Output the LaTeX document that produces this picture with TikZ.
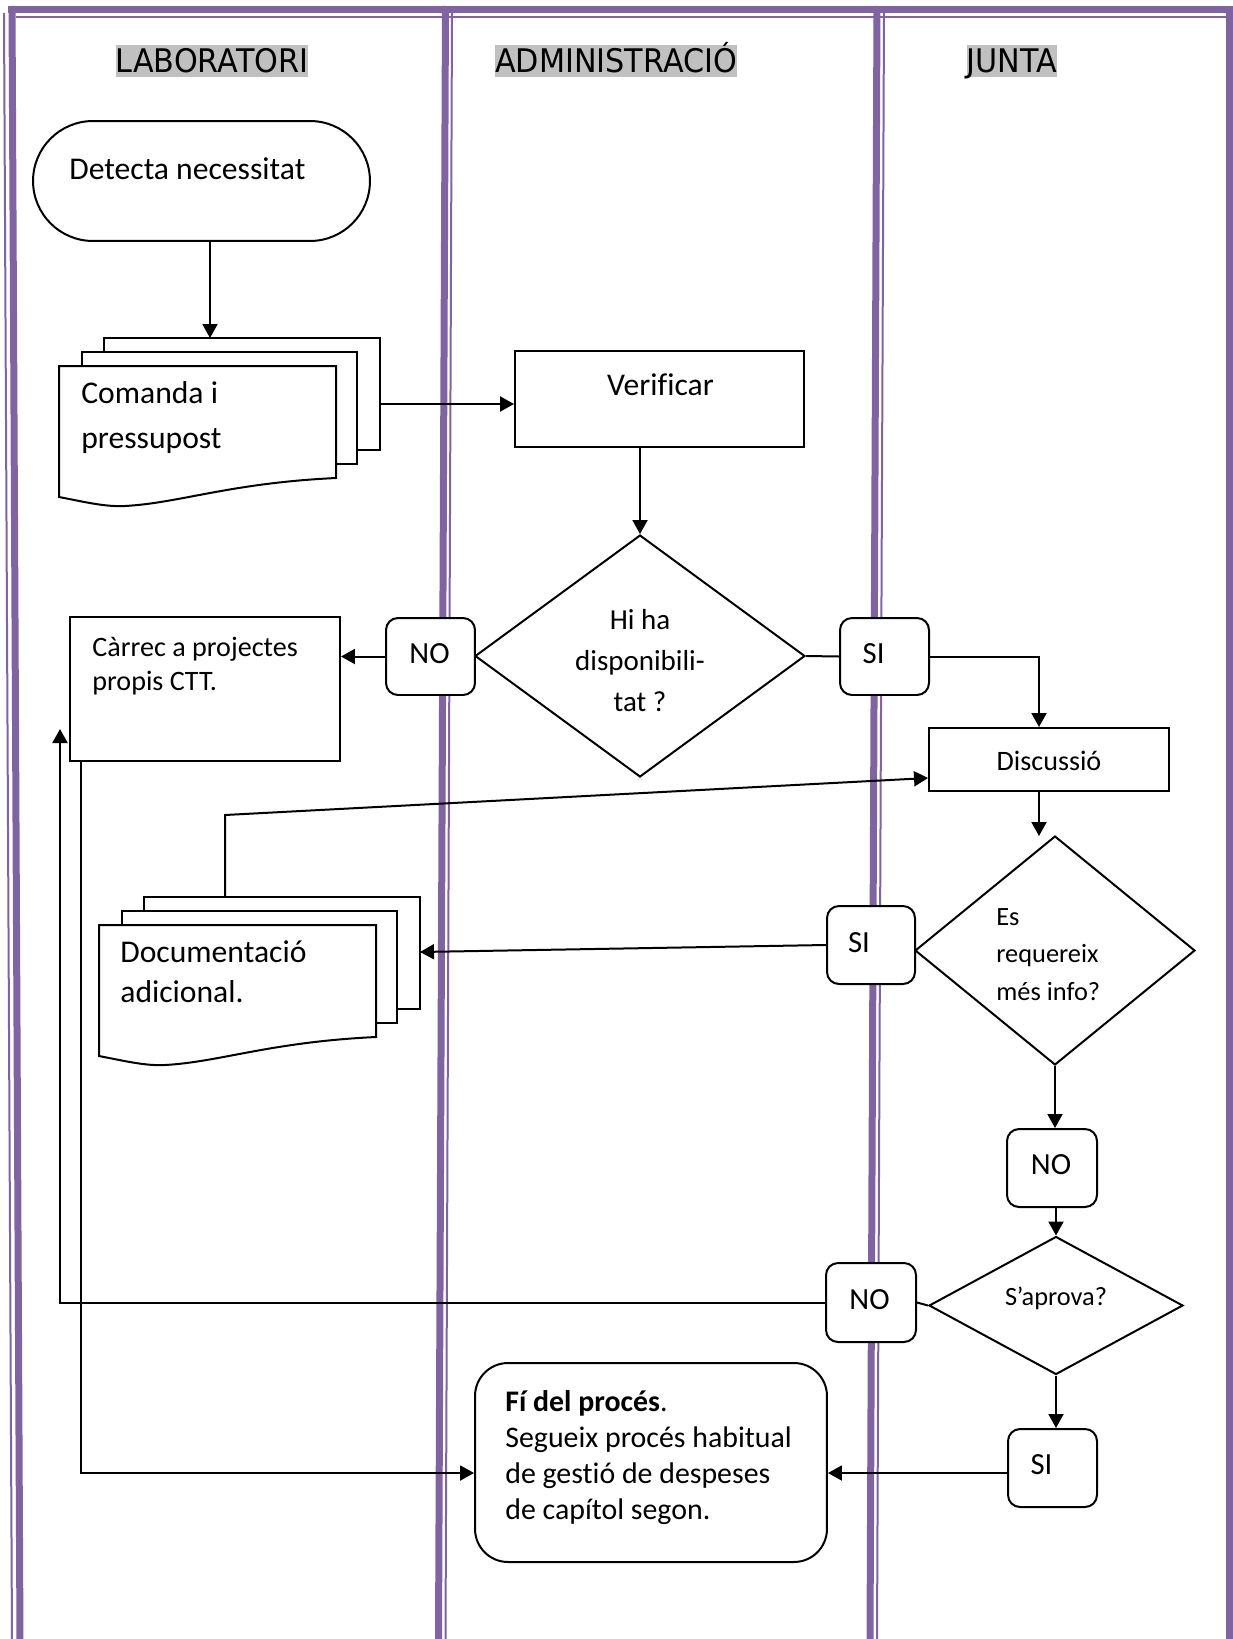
\documentclass[tikz,border=0pt]{standalone}
\usepackage{fontspec}
\setmainfont{Carlito}[Ligatures=NoCommon]
\newfontfamily\hdrfont{DejaVu Sans}[FakeStretch=0.93]
\usetikzlibrary{arrows.meta,shapes.geometric}
\definecolor{lane}{HTML}{8064A2}
\definecolor{hl}{HTML}{C0C0C0}
\tikzset{
  mdoc/.pic={
    \draw[line width=0.04cm, fill=white] (45,0) rectangle (321,112);
    \draw[line width=0.04cm, fill=white] (23,14) rectangle (298,126);
    \draw[line width=0.04cm, fill=white] (0,28) -- (277,28) -- (277,140)
      .. controls (171,145) and (121,165) .. (66,168)
      .. controls (46,169) and (26,164) .. (0,159) -- cycle;
  }
}
\begin{document}
\begin{tikzpicture}[x=0.02cm,y=-0.02cm,
  ln/.style={line width=0.04cm, draw=black},
  arr/.style={ln,-{Triangle[length=0.28cm,width=0.3cm]}},
  box/.style={draw, line width=0.04cm, fill=white, inner sep=0, rectangle},
  rbox/.style={box, rounded corners=0.24cm},
  dec/.style={draw, line width=0.04cm, fill=white, diamond, inner sep=0},
  txt/.style={inner sep=0, yshift=-0.1cm, execute at begin node=\strut, execute at end node=\strut},
  hdr/.style={inner sep=0, fill=hl, text height=15.85pt, text depth=2.35pt, font=\hdrfont\fontsize{18.5pt}{20pt}\selectfont},
  lanethick/.style={draw=lane, line width=0.14cm},
  lanethin/.style={draw=lane, line width=0.04cm},
  fbig/.style={font=\fontsize{18pt}{21.6pt}\selectfont},
  fyn/.style={txt, font=\fontsize{17.5pt}{21pt}\selectfont},
]
\useasboundingbox (0,0) rectangle (1232,1639);
\fill[white] (0,0) rectangle (1232,1639);

% swim lanes
\draw[lanethick] (8,9.5) -- (1232,9.5);
\draw[lanethin] (16,16.8) -- (1227,16.8);
\draw[lanethin] (4,13) -- (12,1639);
\draw[lanethick] (12,6) -- (20,1639);
\draw[lanethick] (445.5,6) -- (438.5,1639);
\draw[lanethin] (452,13) -- (445.5,1639);
\draw[lanethick] (877,6) -- (870,1639);
\draw[lanethin] (884,13) -- (877,1639);
\draw[lanethick] (1229.5,6) -- (1229.5,1639);

% headers
\node[hdr] (hL) at (212,61) {LABORATORI};
\node[hdr] (hA) at (616,61) {ADMINISTRACIÓ};
\node[hdr] (hJ) at (1012,61) {JUNTA};

% start
\node[rbox, rounded corners=1.2cm, minimum width=6.74cm, minimum height=2.4cm] (det) at (201.5,181) {};
\node[txt, fbig, anchor=west] (tdet) at (69,167) {Detecta necessitat};

% comanda multi document
\pic at (59,338) {mdoc};
\coordinate (cmdTop) at (210,338);
\coordinate (cmdR) at (380,404);
\node[txt, font=\fontsize{18pt}{25.6pt}\selectfont, align=left, anchor=west] (tcmd) at (81,417) {Comanda i\\pressupost};

% verificar
\node[box, minimum width=5.78cm, minimum height=1.92cm] (ver) at (659.5,399) {};
\node[txt, fbig] (tver) at (660.5,382.5) {Verificar};

% decision 1
\node[dec, minimum width=6.6cm, minimum height=4.84cm] (d1) at (640,656) {};
\node[txt, font=\fontsize{16.5pt}{23.2pt}\selectfont, align=center] (td1) at (640,661.5) {Hi ha\\disponibili-\\tat ?};

\node[rbox, minimum width=1.78cm, minimum height=1.54cm] (no1) at (430.5,656.5) {};
\node[fyn] (tno1) at (429.5,651) {NO};
\node[rbox, minimum width=1.78cm, minimum height=1.54cm] (si1) at (884.5,656.5) {};
\node[fyn] (tsi1) at (873.6,651) {SI};

% carrec
\node[box, minimum width=5.4cm, minimum height=2.88cm] (car) at (205,689) {};
\node[txt, font=\fontsize{16pt}{19.6pt}\selectfont, align=left, anchor=west] (tcar) at (92,664) {Càrrec a projectes\\propis CTT.};

% discussio
\node[box, minimum width=4.8cm, minimum height=1.26cm] (dis) at (1049,759.5) {};
\node[txt, font=\fontsize{16pt}{19.5pt}\selectfont] (tdis) at (1049,758.7) {Discussió};

% decision 2
\node[dec, minimum width=5.6cm, minimum height=4.58cm] (d2) at (1055,950.5) {};
\node[txt, font=\fontsize{15pt}{21.4pt}\selectfont, align=left, anchor=west] (td2) at (996,955) {Es\\requereix\\més info?};
\node[rbox, minimum width=1.76cm, minimum height=1.56cm] (si2) at (871,945) {};
\node[fyn] (tsi2) at (859,940.5) {SI};

% documentacio multi document
\pic at (99,897) {mdoc};
\coordinate (docTop) at (225,897);
\coordinate (docR) at (420,952);
\node[txt, font=\fontsize{18pt}{22.8pt}\selectfont, align=left, anchor=west] (tdoc) at (120,973) {Documentació\\adicional.};

% no2
\node[rbox, minimum width=1.8cm, minimum height=1.56cm] (no2) at (1052,1168) {};
\node[fyn] (tno2) at (1051,1162) {NO};

% decision 3
\node[dec, minimum width=5.08cm, minimum height=2.76cm] (d3) at (1056,1305.5) {};
\node[txt, font=\fontsize{15pt}{18pt}\selectfont] (td3) at (1056,1294) {S’aprova?};
\node[rbox, minimum width=1.8cm, minimum height=1.58cm] (no3) at (871,1302.5) {};
\node[fyn] (tno3) at (869.5,1297) {NO};
\node[rbox, minimum width=1.78cm, minimum height=1.56cm] (si3) at (1052.5,1468) {};
\node[fyn] (tsi3) at (1041.5,1462.5) {SI};

% end
\node[box, rounded corners=0.66cm, minimum width=7.04cm, minimum height=3.98cm] (fi) at (651,1462.5) {};
\node[txt, font=\fontsize{17pt}{20.5pt}\selectfont, align=left, anchor=west] (tfi) at (505,1455) {\textbf{Fí del procés}.\\Segueix procés habitual\\de gestió de despeses\\de capítol segon.};

% helper coordinates
\coordinate (disIn) at (dis.north -| 1039,0);
\coordinate (d2In) at (1039,836);
\coordinate (disL) at (dis.west |- 0,778);
\coordinate (bend1) at (225,815);
\coordinate (loopUp) at (60,729);
\coordinate (carB) at (car.south -| 81,0);
\coordinate (fiL) at (fi.west |- 0,1473);
\coordinate (fiR) at (fi.east |- 0,1473);

% connectors
\draw[arr] (det.south -| cmdTop) -- (cmdTop);
\draw[arr] (cmdR) -- (ver.west |- cmdR);
\draw[arr] (ver.south -| d1.north) -- (d1.north);
\draw[arr] (no1.west) -- (car.east |- no1.west);
\draw[ln] (d1.east) -- (si1.west);
\draw[arr] (si1.east) -| (disIn);
\draw[arr] (dis.south -| d2In) -- (d2In);
\draw[arr] (si2.west) -- (docR);
\draw[arr] (docTop) -- (bend1) -- (disL);
\draw[arr] (d2.south) -- (d2.south |- no2.north);
\draw[arr] (no2.south -| d3.north) -- (d3.north);
\draw[ln] (d3.west) -- (no3.east);
\draw[arr] (no3.west) -| (loopUp);
\draw[arr] (carB) |- (fiL);
\draw[arr] (d3.south) -- (d3.south |- si3.north);
\draw[arr] (si3.west |- fiR) -- (fiR);
\end{tikzpicture}
\end{document}
